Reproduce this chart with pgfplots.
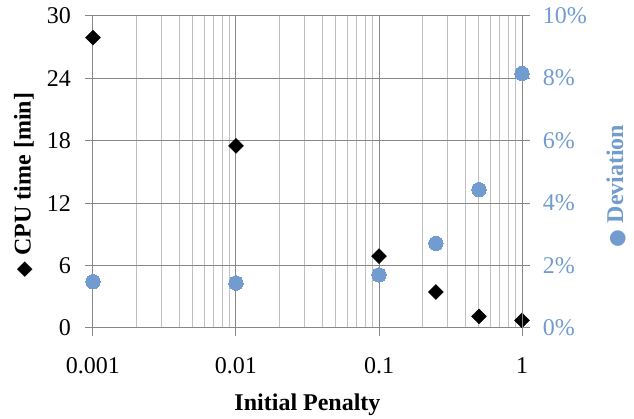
\documentclass[border=0pt]{standalone}
\usepackage{pgfplots}
\pgfplotsset{compat=1.18}
\usepackage{fontspec}
\setmainfont{Liberation Serif}
\newfontfamily\dejavu{DejaVu Sans}
\definecolor{devblue}{RGB}{114,155,207}
\definecolor{majgrid}{RGB}{135,135,135}
\definecolor{mingrid}{RGB}{192,192,192}
\begin{document}
\begin{tikzpicture}[font=\fontsize{24}{28}\selectfont]
\path[use as bounding box] (0,0) rectangle (634pt,419pt);
\begin{axis}[
  at={(93pt,91pt)}, anchor=south west,
  scale only axis, width=429pt, height=312.3pt,
  xmode=log, xmin=0.001, xmax=1,
  clip=false,
  /pgf/number format/assume math mode=true,
  axis line style={draw=majgrid, line width=1pt},
  tick style={draw=majgrid, line width=1pt},
  tick align=outside,
  major tick length=8pt, minor tick length=0pt,
  label style={font=\fontsize{24}{28}\selectfont\bfseries},
  tick label style={font=\fontsize{24}{28}\selectfont},
  ymin=0, ymax=30, ytick={0,6,12,18,24,30},
  xtick={0.001,0.01,0.1,1}, xticklabels={0.001,0.01,0.1,1},
  xtick pos=bottom, ytick pos=left,
  grid=both,
  major grid style={draw=majgrid, line width=1pt},
  minor grid style={draw=mingrid, line width=1pt},
  minor y tick num=0,
  xticklabel style={anchor=north, inner sep=0pt, yshift=-21pt},
  yticklabel style={anchor=east, inner sep=0pt, xshift=-14pt},
  xlabel={Initial Penalty},
  xlabel style={at={(axis description cs:0.5,-0.245)}, anchor=center},
  ylabel={{\dejavu\mdseries\scalebox{0.85}{◆}} CPU time [min]},
  ylabel style={at={(axis description cs:-0.161,0.458)}, anchor=center},
]
\addplot[only marks, black, mark=square*, mark size=5.3pt,
  mark options={rotate=45, fill=black, draw=black}]
  coordinates {(0.001,27.9) (0.01,17.5) (0.1,6.9) (0.25,3.46) (0.5,1.12) (1,0.74)};
\end{axis}
\begin{axis}[
  at={(93pt,91pt)}, anchor=south west,
  scale only axis, width=429pt, height=312.3pt,
  xmode=log, xmin=0.001, xmax=1,
  clip=false,
  /pgf/number format/assume math mode=true,
  axis line style={draw=majgrid, line width=1pt},
  tick style={draw=majgrid, line width=1pt},
  tick align=outside,
  major tick length=8pt, minor tick length=0pt,
  label style={font=\fontsize{24}{28}\selectfont\bfseries},
  tick label style={font=\fontsize{24}{28}\selectfont},
  axis x line=none,
  axis y line*=right,
  ymin=0, ymax=10, ytick={0,2,4,6,8,10},
  yticklabel={\pgfmathprintnumber{\tick}\%},
  yticklabel style={anchor=west, inner sep=0pt, xshift=12.7pt, text=devblue},
  ylabel={{\dejavu\mdseries\scalebox{0.85}{●}} Deviation},
  ylabel style={at={(axis description cs:1.219,0.455)}, anchor=center, text=devblue},
]
\addplot[only marks, devblue, mark=*, mark size=7.2pt,
  mark options={fill=devblue, draw=devblue, line width=0pt}]
  coordinates {(0.001,1.48) (0.01,1.44) (0.1,1.70) (0.25,2.71) (0.5,4.43) (1,8.15)};
\end{axis}
\end{tikzpicture}
\end{document}
